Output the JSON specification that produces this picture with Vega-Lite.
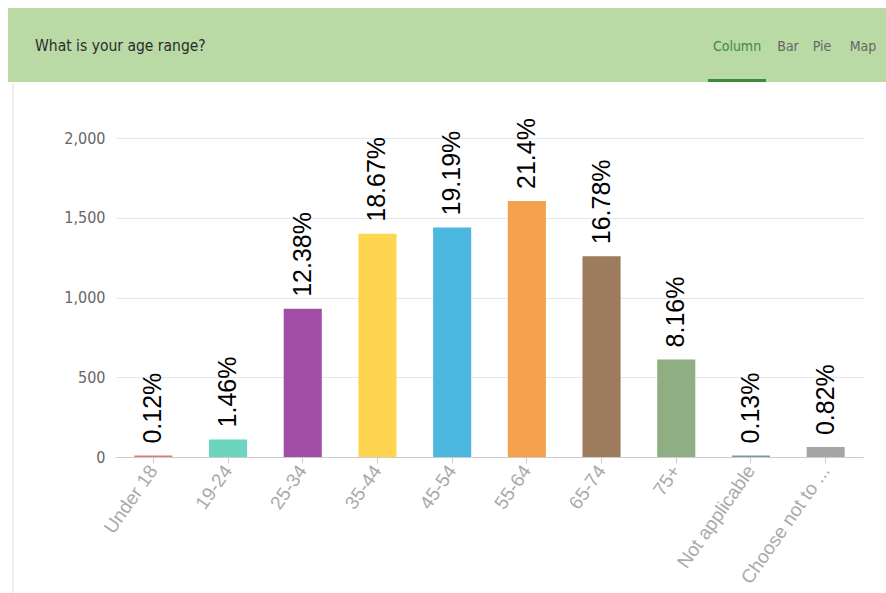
{
  "$schema": "https://vega.github.io/schema/vega-lite/v6.json",
  "padding": {"left": 8, "top": 8, "right": 0, "bottom": 0},
  "background": "white",
  "spacing": 0,
  "config": {"view": {"stroke": null}, "font": "Liberation Sans"},
  "vconcat": [
    {
      "width": 770,
      "height": 74,
      "data": {"values": [{}]},
      "layer": [
        {
          "mark": {"type": "rect", "color": "#b9d9a5"},
          "encoding": {"x": {"value": -108}, "x2": {"value": 770}, "y": {"value": 0}, "y2": {"value": 74}}
        },
        {
          "mark": {"type": "text", "text": "What is your age range?", "align": "left", "baseline": "middle", "font": "DejaVu Sans Condensed", "fontSize": 15.5, "color": "#2b2b2b"},
          "encoding": {"x": {"value": -81}, "y": {"value": 38}}
        },
        {
          "mark": {"type": "text", "text": "Column", "align": "center", "baseline": "middle", "font": "DejaVu Sans Condensed", "fontSize": 14, "color": "#3d8c3d"},
          "encoding": {"x": {"value": 621}, "y": {"value": 39}}
        },
        {
          "mark": {"type": "text", "text": "Bar", "align": "center", "baseline": "middle", "font": "DejaVu Sans Condensed", "fontSize": 14, "color": "#666666"},
          "encoding": {"x": {"value": 672}, "y": {"value": 39}}
        },
        {
          "mark": {"type": "text", "text": "Pie", "align": "center", "baseline": "middle", "font": "DejaVu Sans Condensed", "fontSize": 14, "color": "#666666"},
          "encoding": {"x": {"value": 706}, "y": {"value": 39}}
        },
        {
          "mark": {"type": "text", "text": "Map", "align": "center", "baseline": "middle", "font": "DejaVu Sans Condensed", "fontSize": 14, "color": "#666666"},
          "encoding": {"x": {"value": 747}, "y": {"value": 39}}
        },
        {
          "mark": {"type": "rule", "color": "#3a8a3a", "strokeWidth": 3},
          "encoding": {"x": {"value": 592}, "x2": {"value": 650}, "y": {"value": 72.5}}
        }
      ]
    },
    {
      "width": 747,
      "height": 319,
      "data": {
        "values": [
          {"age": "Under 18", "count": 9, "label": "0.12%"},
          {"age": "19-24", "count": 110, "label": "1.46%"},
          {"age": "25-34", "count": 929, "label": "12.38%"},
          {"age": "35-44", "count": 1400, "label": "18.67%"},
          {"age": "45-54", "count": 1439, "label": "19.19%"},
          {"age": "55-64", "count": 1605, "label": "21.4%"},
          {"age": "65-74", "count": 1259, "label": "16.78%"},
          {"age": "75+", "count": 612, "label": "8.16%"},
          {"age": "Not applicable", "count": 10, "label": "0.13%"},
          {"age": "Choose not to ...", "count": 62, "label": "0.82%"}
        ]
      },
      "encoding": {
        "x": {
          "field": "age",
          "type": "nominal",
          "sort": null,
          "scale": {"paddingInner": 0.49, "paddingOuter": 0.245},
          "axis": {
            "title": null,
            "labelAngle": -55,
            "labelAlign": "right",
            "labelBaseline": "middle",
            "labelPadding": 4,
            "tickSize": 6,
            "tickColor": "#cccccc",
            "domainColor": "#cccccc",
            "labelColor": "#aaaaaa",
            "labelFont": "Liberation Sans",
            "labelFontSize": 19,
            "labelLimit": 0
          }
        },
        "y": {
          "field": "count",
          "type": "quantitative",
          "scale": {"domain": [0, 2000]},
          "axis": {
            "title": null,
            "values": [0, 500, 1000, 1500, 2000],
            "format": ",d",
            "domain": false,
            "ticks": false,
            "labelPadding": 11,
            "labelFont": "DejaVu Sans Condensed",
            "labelFontSize": 16,
            "labelColor": "#666666",
            "gridColor": "#e6e6e6",
            "minExtent": 108,
            "maxExtent": 108
          }
        }
      },
      "layer": [
        {
          "data": {"values": [{}]},
          "mark": {"type": "rule", "color": "#dddddd", "strokeWidth": 1},
          "encoding": {"x": {"value": -103}, "y": {"value": -55}, "y2": {"value": 456}}
        },
        {
          "mark": {"type": "bar"},
          "encoding": {
            "color": {
              "field": "age",
              "type": "nominal",
              "scale": {
                "domain": ["Under 18", "19-24", "25-34", "35-44", "45-54", "55-64", "65-74", "75+", "Not applicable", "Choose not to ..."],
                "range": ["#e07a7a", "#6bd6bd", "#a24ea6", "#fdd54e", "#4cb8df", "#f5a04d", "#9d7b5d", "#8fae83", "#7e98a3", "#a6a6a6"]
              },
              "legend": null
            }
          }
        },
        {
          "mark": {"type": "text", "angle": 270, "align": "left", "baseline": "middle", "dx": 12, "fontSize": 25, "font": "Liberation Sans", "color": "#000000"},
          "encoding": {"text": {"field": "label"}}
        }
      ]
    }
  ]
}
